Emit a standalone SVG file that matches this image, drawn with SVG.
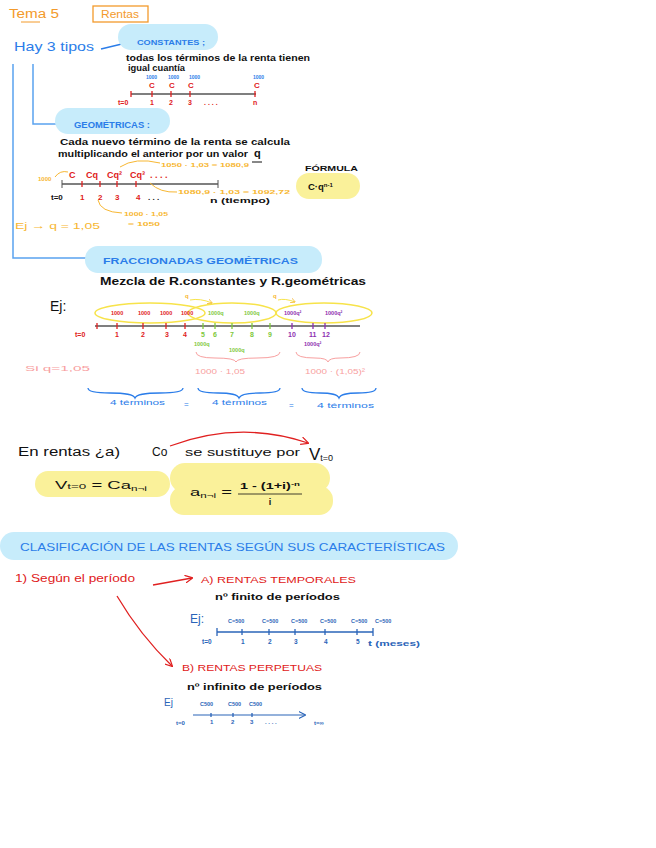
<svg xmlns="http://www.w3.org/2000/svg" width="656" height="848" viewBox="0 0 656 848">
<defs>
<style>
text{font-family:"Liberation Sans","DejaVu Sans",sans-serif;}
.or{fill:#f39a2b}
.bl{fill:#2b7de9}
.bk{fill:#111}
.rd{fill:#e02020}
.gr{fill:#7ec83b}
.pu{fill:#8e2fb0}
.pk{fill:#f8a0a0}
.ol{fill:#f7b733}
.nv{fill:#2a64b8}
.pill{fill:#c7ecfb}
.yel{fill:#faf19a}
.tl{stroke:#555;stroke-width:1.6;fill:none}
.tk{stroke-width:1.3}
</style>
<marker id="ar" viewBox="0 0 10 10" refX="9" refY="5" markerWidth="6" markerHeight="6" orient="auto"><path d="M0,0L10,5L0,10" fill="none" stroke="#e02020" stroke-width="1.5"/></marker>
<marker id="ab" viewBox="0 0 10 10" refX="9" refY="5" markerWidth="6" markerHeight="6" orient="auto"><path d="M0,0L10,5L0,10" fill="none" stroke="#2a64b8" stroke-width="1.5"/></marker>
<marker id="ao" viewBox="0 0 10 10" refX="9" refY="5" markerWidth="5" markerHeight="5" orient="auto"><path d="M0,0L10,5L0,10" fill="none" stroke="#f7b733" stroke-width="1.5"/></marker>
</defs>
<rect width="656" height="848" fill="#fff"/>
<g font-weight="bold">

<g id="title">
<text x="9" y="18" class="or" font-size="12" font-weight="normal" textLength="50" lengthAdjust="spacingAndGlyphs">Tema 5</text>
<line x1="21" y1="22" x2="40" y2="22" stroke="#f39a2b" stroke-width="1"/>
<rect x="93" y="6" width="55" height="16" fill="none" stroke="#f39a2b" stroke-width="1.3"/>
<text x="101" y="18" class="or" font-size="10" font-weight="normal" textLength="38" lengthAdjust="spacingAndGlyphs">Rentas</text>
</g>

<g id="connectors">
<path d="M13,64V258H95" fill="none" stroke="#5aa2f0" stroke-width="1.5"/>
<path d="M33,64V124H66" fill="none" stroke="#5aa2f0" stroke-width="1.5"/>
<path d="M101,49L126,43" fill="none" stroke="#2b7de9" stroke-width="1.5"/>
<path d="M170,446Q240,420 308,443" fill="none" stroke="#e02020" stroke-width="1.3" marker-end="url(#ar)"/>
<path d="M153,585L192,578" fill="none" stroke="#e02020" stroke-width="1.3" marker-end="url(#ar)"/>
<path d="M117,596Q140,635 172,666" fill="none" stroke="#e02020" stroke-width="1.3" marker-end="url(#ar)"/>
</g>

<g id="hay">
<text x="14" y="51" class="bl" font-size="13" font-weight="normal" textLength="80" lengthAdjust="spacingAndGlyphs">Hay 3 tipos</text>
</g>

<g id="constantes">
<rect x="118" y="24" width="100" height="26" rx="13" class="pill"/>
<text x="137" y="45" class="bl" font-size="8" textLength="68" lengthAdjust="spacingAndGlyphs">CONSTANTES ;</text>
<text x="126" y="61" class="bk" font-size="9.5" textLength="184" lengthAdjust="spacingAndGlyphs">todas los términos de la renta tienen</text>
<text x="128" y="71" class="bk" font-size="9" textLength="57" lengthAdjust="spacingAndGlyphs">igual cuantía</text>
<line x1="131" y1="94" x2="256" y2="94" class="tl"/>
<g stroke="#e02020" class="tk"><line x1="131" y1="91" x2="131" y2="97"/><line x1="152" y1="91" x2="152" y2="97"/><line x1="171" y1="91" x2="171" y2="97"/><line x1="190" y1="91" x2="190" y2="97"/><line x1="255" y1="91" x2="255" y2="97"/></g>
<g class="bl" font-size="5"><text x="146" y="79">1000</text><text x="168" y="79">1000</text><text x="189" y="79">1000</text><text x="253" y="79">1000</text></g>
<g class="rd" font-size="8"><text x="149" y="88">C</text><text x="169" y="88">C</text><text x="188" y="88">C</text><text x="254" y="88">C</text></g>
<g class="rd" font-size="7"><text x="118" y="105">t=0</text><text x="150" y="105">1</text><text x="169" y="105">2</text><text x="188" y="105">3</text><text x="204" y="105">. . . .</text><text x="253" y="105">n</text></g>
</g>

<g id="geometricas">
<rect x="55" y="108" width="115" height="26" rx="13" class="pill"/>
<text x="74" y="128" class="bl" font-size="8.5" textLength="76" lengthAdjust="spacingAndGlyphs">GEOMÉTRICAS :</text>
<text x="60" y="145" class="bk" font-size="9.5" textLength="230" lengthAdjust="spacingAndGlyphs">Cada nuevo término de la renta se calcula</text>
<text x="58" y="157" class="bk" font-size="9.5" textLength="190" lengthAdjust="spacingAndGlyphs">multiplicando el anterior por un valor</text>
<text x="254" y="157" class="bk" font-size="11">q</text>
<line x1="252" y1="162" x2="262" y2="162" stroke="#111"/>
<line x1="62" y1="184" x2="218" y2="184" class="tl"/>
<g stroke="#e02020" class="tk"><line x1="82" y1="181" x2="82" y2="187"/><line x1="100" y1="181" x2="100" y2="187"/><line x1="117" y1="181" x2="117" y2="187"/><line x1="136" y1="181" x2="136" y2="187"/></g>
<line x1="62" y1="180" x2="62" y2="188" stroke="#555"/><line x1="218" y1="180" x2="218" y2="188" stroke="#555"/>
<g class="rd" font-size="9"><text x="69" y="178">C</text><text x="86" y="178">Cq</text><text x="107" y="178">Cq²</text><text x="130" y="178">Cq³</text><text x="150" y="178">. . . .</text></g>
<text x="51" y="200" class="bk" font-size="8">t=0</text>
<g class="rd" font-size="8"><text x="80" y="200">1</text><text x="98" y="200">2</text><text x="115" y="200">3</text><text x="136" y="200">4</text><text x="148" y="200" fill="#111">. . .</text></g>
<text x="210" y="203" class="bk" font-size="8" textLength="60" lengthAdjust="spacingAndGlyphs">n (tiempo)</text>
<g class="ol" font-size="6"><text x="38" y="181">1000</text><text x="161" y="167" textLength="88" lengthAdjust="spacingAndGlyphs">1050 · 1,03 = 1080,9</text><text x="178" y="194" textLength="112" lengthAdjust="spacingAndGlyphs">1080,9 · 1,03 = 1092,72</text><text x="124" y="216" textLength="44" lengthAdjust="spacingAndGlyphs">1000 · 1,05</text><text x="128" y="226" textLength="32" lengthAdjust="spacingAndGlyphs">= 1050</text></g>
<g fill="none" stroke="#f7b733" stroke-width="1"><path d="M55,177Q60,170 68,172"/><path d="M120,167Q135,157 160,163"/><path d="M150,183Q160,193 177,192"/><path d="M98,200Q100,212 122,213"/></g>
<text x="15" y="229" class="ol" font-size="9.5" font-weight="normal" textLength="85" lengthAdjust="spacingAndGlyphs">Ej →  q = 1,05</text>
</g>

<g id="formula">
<text x="305" y="171" class="bk" font-size="8" textLength="53" lengthAdjust="spacingAndGlyphs">FÓRMULA</text>
<rect x="296" y="173" width="64" height="26" rx="13" class="yel"/>
<text x="308" y="190" class="bk" font-size="9.5">C·q<tspan font-size="6" dy="-3">n-1</tspan></text>
</g>

<g id="fraccionadas">
<rect x="85" y="246" width="237" height="27" rx="13" class="pill"/>
<text x="103" y="264" class="bl" font-size="9" textLength="195" lengthAdjust="spacingAndGlyphs">FRACCIONADAS GEOMÉTRICAS</text>
<text x="100" y="285" class="bk" font-size="10" textLength="266" lengthAdjust="spacingAndGlyphs">Mezcla de R.constantes y R.geométricas</text>
<text x="50" y="311" class="bk" font-size="14" font-weight="normal">Ej:</text>
<g fill="none" stroke="#f7e34a" stroke-width="1.5"><ellipse cx="150" cy="313" rx="55" ry="10"/><ellipse cx="232" cy="313" rx="44" ry="10"/><ellipse cx="324" cy="313" rx="48" ry="10"/></g>
<g class="ol" font-size="6"><text x="185" y="298">q</text><text x="273" y="298">q</text></g>
<g fill="none" stroke="#f7e34a" stroke-width="1"><path d="M190,300Q200,298 212,303" marker-end="url(#ao)"/><path d="M278,300Q285,298 295,302" marker-end="url(#ao)"/></g>
<g class="rd" font-size="5.5"><text x="111" y="315">1000</text><text x="138" y="315">1000</text><text x="160" y="315">1000</text><text x="181" y="315">1000</text></g>
<g class="gr" font-size="5.5"><text x="208" y="315">1000q</text><text x="244" y="315">1000q</text></g>
<g class="pu" font-size="5.5"><text x="284" y="315">1000q²</text><text x="325" y="315">1000q²</text></g>
<line x1="95" y1="326" x2="360" y2="326" class="tl"/>
<g stroke="#e02020" class="tk"><line x1="97" y1="323" x2="97" y2="329"/><line x1="117" y1="323" x2="117" y2="329"/><line x1="143" y1="323" x2="143" y2="329"/><line x1="166" y1="323" x2="166" y2="329"/><line x1="185" y1="323" x2="185" y2="329"/></g>
<g stroke="#7ec83b" class="tk"><line x1="203" y1="323" x2="203" y2="329"/><line x1="215" y1="323" x2="215" y2="329"/><line x1="232" y1="323" x2="232" y2="329"/><line x1="252" y1="323" x2="252" y2="329"/><line x1="270" y1="323" x2="270" y2="329"/></g>
<g stroke="#8e2fb0" class="tk"><line x1="292" y1="323" x2="292" y2="329"/><line x1="313" y1="323" x2="313" y2="329"/><line x1="325" y1="323" x2="325" y2="329"/></g>
<g class="rd" font-size="7"><text x="75" y="337">t=0</text><text x="115" y="337">1</text><text x="141" y="337">2</text><text x="165" y="337">3</text><text x="183" y="337">4</text></g>
<g class="gr" font-size="7"><text x="201" y="337">5</text><text x="213" y="337">6</text><text x="230" y="337">7</text><text x="250" y="337">8</text><text x="268" y="337">9</text></g>
<g class="pu" font-size="7"><text x="288" y="337">10</text><text x="309" y="337">11</text><text x="322" y="337">12</text></g>
<g class="gr" font-size="5.5"><text x="194" y="346">1000q</text><text x="229" y="352">1000q</text></g>
<text x="304" y="346" class="pu" font-size="5.5">1000q²</text>
<g fill="none" stroke="#f8a0a0" stroke-width="1"><path d="M196,352Q196,358 215,358Q235,358 236,362Q237,358 257,358Q280,358 280,352"/><path d="M296,352Q296,358 315,358Q327,358 328,362Q329,358 340,358Q360,358 360,352"/></g>
<g class="pk" font-size="8" font-weight="normal"><text x="25" y="371" textLength="65" lengthAdjust="spacingAndGlyphs">Si  q=1,05</text><text x="195" y="374" textLength="50" lengthAdjust="spacingAndGlyphs">1000 · 1,05</text><text x="305" y="374" textLength="60" lengthAdjust="spacingAndGlyphs">1000 · (1,05)²</text></g>
<g fill="none" stroke="#2b7de9" stroke-width="1.3"><path d="M88,388Q88,393 110,393Q133,393 135,398Q137,393 160,393Q183,393 183,388"/><path d="M198,388Q198,393 218,393Q237,393 239,398Q241,393 260,393Q280,393 280,388"/><path d="M302,388Q302,393 320,393Q337,393 339,398Q341,393 358,393Q376,393 376,388"/></g>
<g class="bl" font-size="8" font-weight="normal"><text x="110" y="405" textLength="55" lengthAdjust="spacingAndGlyphs">4 términos</text><text x="184" y="407">=</text><text x="212" y="405" textLength="55" lengthAdjust="spacingAndGlyphs">4 términos</text><text x="289" y="408">=</text><text x="317" y="408" textLength="57" lengthAdjust="spacingAndGlyphs">4 términos</text></g>
</g>

<g id="enrentas">
<text x="18" y="456" class="bk" font-size="12" font-weight="normal" textLength="102" lengthAdjust="spacingAndGlyphs">En rentas ¿a)</text>
<text x="152" y="456" class="bk" font-size="12" font-weight="normal">Co</text>
<text x="185" y="456" class="bk" font-size="10" font-weight="normal" textLength="115" lengthAdjust="spacingAndGlyphs">se sustituye por</text>
<text x="309" y="460" class="bk" font-size="17" font-weight="normal">V<tspan font-size="9" dy="1">t=0</tspan></text>
<rect x="35" y="471" width="135" height="26" rx="13" class="yel"/>
<text x="55" y="489" class="bk" font-size="11" font-weight="normal" textLength="92" lengthAdjust="spacingAndGlyphs">V<tspan font-size="8">t=0</tspan> = Ca<tspan font-size="7" dy="2">n¬i</tspan></text>
<rect x="170" y="463" width="160" height="30" rx="15" class="yel"/>
<rect x="170" y="486" width="163" height="29" rx="14" class="yel"/>
<text x="190" y="496" class="bk" font-size="11" font-weight="normal" textLength="42" lengthAdjust="spacingAndGlyphs">a<tspan font-size="7" dy="2">n¬i</tspan><tspan dy="-2"> =</tspan></text>
<text x="240" y="489" class="bk" font-size="9" textLength="60" lengthAdjust="spacingAndGlyphs">1 - (1+i)<tspan font-size="6" dy="-3">-n</tspan></text>
<line x1="238" y1="494" x2="302" y2="494" stroke="#111" stroke-width="0.8"/>
<text x="270" y="505" class="bk" font-size="9" text-anchor="middle">i</text>
</g>

<g id="clasificacion">
<rect x="0" y="532" width="458" height="28" rx="14" class="pill"/>
<text x="20" y="551" class="bl" font-size="11" font-weight="normal" textLength="425" lengthAdjust="spacingAndGlyphs">CLASIFICACIÓN DE LAS RENTAS SEGÚN SUS CARACTERÍSTICAS</text>
</g>

<g id="segun">
<text x="15" y="582" class="rd" font-size="10" font-weight="normal" textLength="120" lengthAdjust="spacingAndGlyphs">1) Según el período</text>
</g>

<g id="temporales">
<text x="201" y="583" class="rd" font-size="9.5" font-weight="normal" textLength="155" lengthAdjust="spacingAndGlyphs">A) RENTAS TEMPORALES</text>
<text x="215" y="600" class="bk" font-size="9" textLength="125" lengthAdjust="spacingAndGlyphs">nº finito de períodos</text>
<text x="190" y="623" class="nv" font-size="12" font-weight="normal">Ej:</text>
<g class="nv" font-size="5.5"><text x="228" y="623">C=500</text><text x="262" y="623">C=500</text><text x="291" y="623">C=500</text><text x="320" y="623">C=500</text><text x="351" y="623">C=500</text><text x="375" y="623">C=500</text></g>
<line x1="217" y1="632" x2="373" y2="632" stroke="#2a64b8" stroke-width="1.4"/>
<g stroke="#2a64b8" class="tk"><line x1="217" y1="628" x2="217" y2="636"/><line x1="242" y1="629" x2="242" y2="635"/><line x1="269" y1="629" x2="269" y2="635"/><line x1="295" y1="629" x2="295" y2="635"/><line x1="325" y1="629" x2="325" y2="635"/><line x1="357" y1="629" x2="357" y2="635"/><line x1="373" y1="628" x2="373" y2="636"/></g>
<g class="nv" font-size="6.5"><text x="202" y="644">t=0</text><text x="241" y="644">1</text><text x="268" y="644">2</text><text x="294" y="644">3</text><text x="324" y="644">4</text><text x="356" y="644">5</text><text x="368" y="646" textLength="52" lengthAdjust="spacingAndGlyphs">t (meses)</text></g>
</g>

<g id="perpetuas">
<text x="182" y="671" class="rd" font-size="9.5" font-weight="normal" textLength="140" lengthAdjust="spacingAndGlyphs">B) RENTAS PERPETUAS</text>
<text x="187" y="690" class="bk" font-size="9" textLength="135" lengthAdjust="spacingAndGlyphs">nº infinito de períodos</text>
<text x="164" y="706" class="nv" font-size="10" font-weight="normal">Ej</text>
<g class="nv" font-size="5.5"><text x="200" y="706">C500</text><text x="228" y="706">C500</text><text x="249" y="706">C500</text></g>
<line x1="193" y1="715" x2="305" y2="715" stroke="#2a64b8" stroke-width="1.2" marker-end="url(#ab)"/>
<g stroke="#2a64b8" class="tk"><line x1="211" y1="713" x2="211" y2="717"/><line x1="233" y1="713" x2="233" y2="717"/><line x1="252" y1="713" x2="252" y2="717"/></g>
<g class="nv" font-size="6"><text x="176" y="725">t=0</text><text x="210" y="724">1</text><text x="231" y="724">2</text><text x="250" y="724">3</text><text x="265" y="724">. . . .</text><text x="314" y="725">t=∞</text></g>
</g>
</g>
</svg>
